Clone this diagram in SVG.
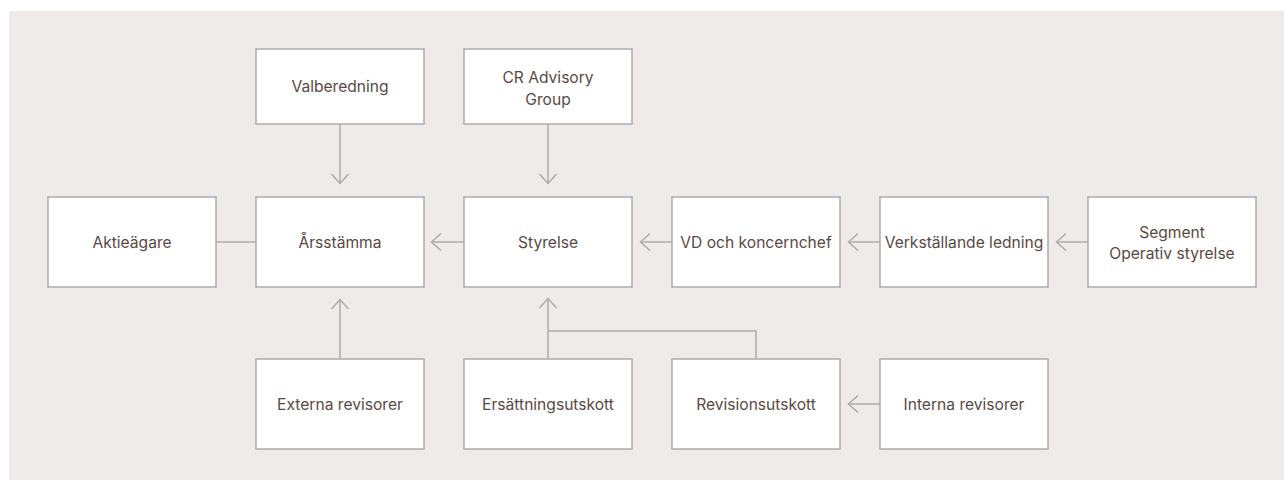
<svg xmlns="http://www.w3.org/2000/svg" width="1284" height="480" viewBox="0 0 1284 480">
<style>
.bg{fill:#efebe8}
.box{fill:#ffffff;stroke:#aeaba9;stroke-width:1.5}
.t{font-family:Inter,"Noto Sans","Liberation Sans",sans-serif;font-size:15.6px;fill:#5a4a44;text-anchor:middle;dominant-baseline:central}
.c{fill:none;stroke:#aeaba9;stroke-width:1.5}
</style>
<defs>
<marker id="ah" viewBox="0 0 12 20" refX="11" refY="10" markerWidth="12" markerHeight="20" markerUnits="userSpaceOnUse" orient="auto">
<path d="M1,1.5 L10.5,10 L1,18.5" fill="none" stroke="#aeaba9" stroke-width="1.5"/>
</marker>
</defs>
<rect class="bg" x="9" y="11" width="1275" height="469"/>
<g id="connectors">
<line class="c" x1="340" y1="124" x2="340" y2="184" marker-end="url(#ah)"/>
<line class="c" x1="548" y1="124" x2="548" y2="184" marker-end="url(#ah)"/>
<line class="c" x1="216" y1="242" x2="256" y2="242"/>
<line class="c" x1="464" y1="242" x2="431" y2="242" marker-end="url(#ah)"/>
<line class="c" x1="672" y1="242" x2="640" y2="242" marker-end="url(#ah)"/>
<line class="c" x1="880" y1="242" x2="848" y2="242" marker-end="url(#ah)"/>
<line class="c" x1="1088" y1="242" x2="1056" y2="242" marker-end="url(#ah)"/>
<line class="c" x1="340" y1="359" x2="340" y2="299" marker-end="url(#ah)"/>
<line class="c" x1="548" y1="359" x2="548" y2="298" marker-end="url(#ah)"/>
<polyline class="c" points="548,331 756,331 756,359"/>
<line class="c" x1="880" y1="404" x2="848" y2="404" marker-end="url(#ah)"/>
</g>
<g id="valberedning"><rect class="box" x="256" y="49" width="168" height="75"/><text class="t" x="340" y="86.5">Valberedning</text></g>
<g id="cr-advisory"><rect class="box" x="464" y="49" width="168" height="75"/><text class="t" x="548" y="77">CR Advisory</text><text class="t" x="548" y="99">Group</text></g>
<g id="aktieagare"><rect class="box" x="48" y="197" width="168" height="90"/><text class="t" x="132" y="242">Aktieägare</text></g>
<g id="arsstamma"><rect class="box" x="256" y="197" width="168" height="90"/><text class="t" x="340" y="242">Årsstämma</text></g>
<g id="styrelse"><rect class="box" x="464" y="197" width="168" height="90"/><text class="t" x="548" y="242">Styrelse</text></g>
<g id="vd"><rect class="box" x="672" y="197" width="168" height="90"/><text class="t" x="756" y="242">VD och koncernchef</text></g>
<g id="verkstallande"><rect class="box" x="880" y="197" width="168" height="90"/><text class="t" x="964" y="242">Verkställande ledning</text></g>
<g id="segment"><rect class="box" x="1088" y="197" width="168" height="90"/><text class="t" x="1172" y="232">Segment</text><text class="t" x="1172" y="253">Operativ styrelse</text></g>
<g id="externa"><rect class="box" x="256" y="359" width="168" height="90"/><text class="t" x="340" y="404">Externa revisorer</text></g>
<g id="ersattning"><rect class="box" x="464" y="359" width="168" height="90"/><text class="t" x="548" y="404">Ersättningsutskott</text></g>
<g id="revisions"><rect class="box" x="672" y="359" width="168" height="90"/><text class="t" x="756" y="404">Revisionsutskott</text></g>
<g id="interna"><rect class="box" x="880" y="359" width="168" height="90"/><text class="t" x="964" y="404">Interna revisorer</text></g>
</svg>
